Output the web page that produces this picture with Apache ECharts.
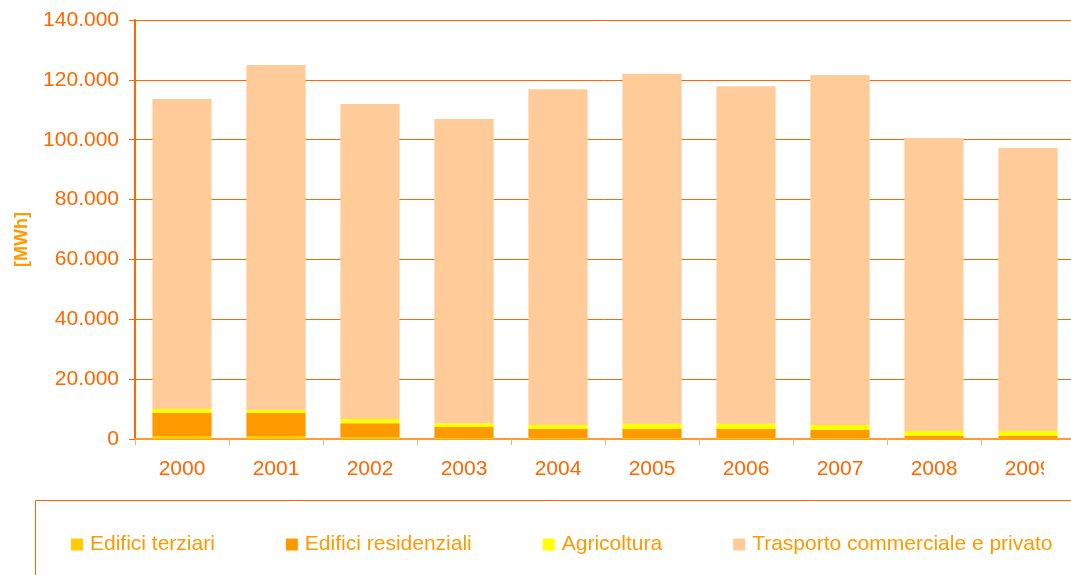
<!DOCTYPE html>
<html>
<head>
<meta charset="utf-8">
<script src="https://cdn.jsdelivr.net/npm/echarts@6/dist/echarts.min.js"></script>
<style>
  html, body { margin: 0; padding: 0; background: #ffffff; }
  #chart { width: 1071px; height: 575px; }
</style>
</head>
<body>
<div id="chart"></div>
<script>
// Energy consumption by sector, MWh per year
const years = ['2000', '2001', '2002', '2003', '2004', '2005', '2006', '2007', '2008', '2009'];
const edificiTerziari = [1000, 1000, 700, 300, 300, 300, 300, 300, 200, 200];
const edificiResidenziali = [7700, 7700, 4600, 3700, 3000, 3000, 3000, 2700, 800, 800];
const agricoltura = [1300, 1000, 1400, 1300, 1400, 1800, 1800, 1700, 1700, 1700];
const trasporto = [103600, 115300, 105200, 101600, 112200, 116900, 112800, 116900, 97900, 94500];
const yTicks = { min: 0, max: 140000, interval: 20000 };

const FONT = '"Liberation Sans", Arial, sans-serif';
const AXIS_ORANGE = '#FF6600';
const TEXT_ORANGE = '#FF9900';

// Italian thousands separator: 140000 -> "140.000"
function fmt(v) {
  return String(v).replace(/\B(?=(\d{3})+(?!\d))/g, '.');
}

const chart = echarts.init(document.getElementById('chart'), null, { renderer: 'canvas' });

function barSeries(name, data, color) {
  return {
    name: name,
    type: 'bar',
    stack: 'totale',
    data: data,
    barCategoryGap: '37%',
    itemStyle: { color: color },
    emphasis: { disabled: true }
  };
}

chart.setOption({
  animation: false,
  backgroundColor: '#ffffff',
  textStyle: { fontFamily: FONT },
  grid: {
    left: 135, top: 20, width: 940, bottom: 136,
    containLabel: false,
    outerBoundsMode: 'none'
  },
  xAxis: {
    type: 'category',
    data: years,
    axisLine: { lineStyle: { color: '#FF9933', width: 2 } },
    axisTick: { show: true, length: 6, lineStyle: { color: '#FFB366', width: 1 } },
    axisLabel: { color: AXIS_ORANGE, fontSize: 21, fontFamily: FONT, margin: 20 }
  },
  yAxis: {
    type: 'value',
    min: yTicks.min,
    max: yTicks.max,
    interval: yTicks.interval,
    name: '[MWh]',
    nameLocation: 'middle',
    nameRotate: 90,
    nameGap: 104,
    nameTextStyle: {
      color: TEXT_ORANGE, fontSize: 18, fontWeight: 'bold', fontFamily: FONT,
      padding: [0, 20, 0, 0]
    },
    axisLine: { show: true, lineStyle: { color: AXIS_ORANGE, width: 2 } },
    axisTick: { show: true, length: 6, lineStyle: { color: AXIS_ORANGE, width: 1 } },
    axisLabel: { color: AXIS_ORANGE, fontSize: 21, fontFamily: FONT, margin: 16, formatter: fmt },
    splitLine: { show: true, lineStyle: { color: AXIS_ORANGE, width: 1 } }
  },
  legend: {
    left: 71,
    top: 534,
    padding: 0,
    itemWidth: 12,
    itemHeight: 12,
    itemGap: 71,
    icon: 'rect',
    selectedMode: false,
    textStyle: { color: TEXT_ORANGE, fontSize: 21, fontFamily: FONT, padding: [0, 0, 0, 2] },
    data: ['Edifici terziari', 'Edifici residenziali', 'Agricoltura', 'Trasporto commerciale e privato']
  },
  graphic: [
    {
      type: 'rect',
      z: -1,
      shape: { x: 35.5, y: 500.5, width: 1100, height: 200 },
      style: { fill: 'none', stroke: AXIS_ORANGE, lineWidth: 1 }
    },
    {
      // clip the category labels at the right edge of the plot frame
      type: 'rect',
      z: 100,
      shape: { x: 1044, y: 450, width: 40, height: 45 },
      style: { fill: '#ffffff' }
    }
  ],
  series: [
    barSeries('Edifici terziari', edificiTerziari, '#FFCC00'),
    barSeries('Edifici residenziali', edificiResidenziali, '#FF9900'),
    barSeries('Agricoltura', agricoltura, '#FFFF00'),
    barSeries('Trasporto commerciale e privato', trasporto, '#FFCC99')
  ]
});
</script>
</body>
</html>
